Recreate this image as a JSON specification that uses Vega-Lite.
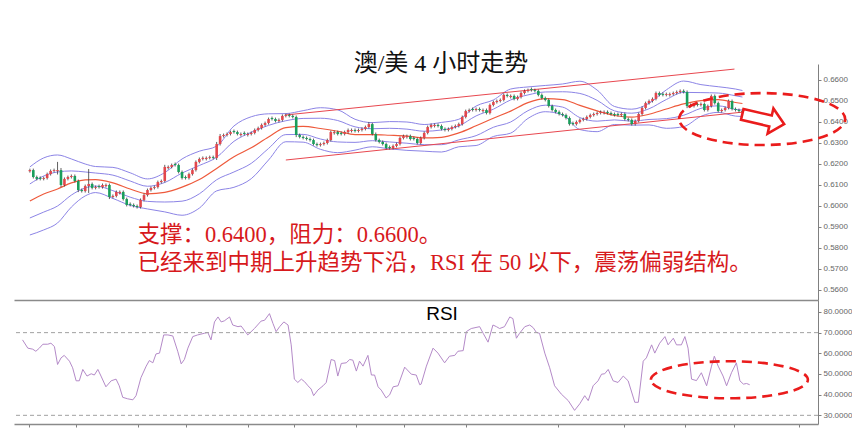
{
"$schema": "https://vega.github.io/schema/vega-lite/v6.json",
"background": "white",
"padding": {"left": 13, "top": 52, "right": 0, "bottom": 0},
"spacing": 0,
"config": {"view": {"stroke": null}, "axis": {"grid": false, "domainColor": "#808080", "tickColor": "#808080", "labelColor": "#666666", "labelFont": "Liberation Sans", "labelFontSize": 8, "tickSize": 3, "labelPadding": 2}},
"datasets": {
"candles": [
{"i":0,"o":0.6166,"h":0.6178,"l":0.6159,"c":0.6171},
{"i":1,"o":0.6171,"h":0.6178,"l":0.6131,"c":0.6138},
{"i":2,"o":0.6138,"h":0.6145,"l":0.6122,"c":0.6129},
{"i":3,"o":0.6134,"h":0.6141,"l":0.6122,"c":0.6129},
{"i":4,"o":0.6129,"h":0.6140,"l":0.6122,"c":0.6133},
{"i":5,"o":0.6133,"h":0.6159,"l":0.6126,"c":0.6152},
{"i":6,"o":0.6152,"h":0.6174,"l":0.6145,"c":0.6167},
{"i":7,"o":0.6167,"h":0.6178,"l":0.6160,"c":0.6171},
{"i":8,"o":0.6166,"h":0.6210,"l":0.6150,"c":0.6171},
{"i":9,"o":0.6171,"h":0.6181,"l":0.6090,"c":0.6100},
{"i":10,"o":0.6100,"h":0.6136,"l":0.6093,"c":0.6129},
{"i":11,"o":0.6129,"h":0.6145,"l":0.6122,"c":0.6138},
{"i":12,"o":0.6138,"h":0.6150,"l":0.6131,"c":0.6143},
{"i":13,"o":0.6143,"h":0.6150,"l":0.6112,"c":0.6119},
{"i":14,"o":0.6119,"h":0.6126,"l":0.6066,"c":0.6076},
{"i":15,"o":0.6076,"h":0.6083,"l":0.6064,"c":0.6071},
{"i":16,"o":0.6071,"h":0.6102,"l":0.6064,"c":0.6095},
{"i":17,"o":0.6095,"h":0.6176,"l":0.6062,"c":0.6105},
{"i":18,"o":0.6105,"h":0.6112,"l":0.6079,"c":0.6086},
{"i":19,"o":0.6086,"h":0.6097,"l":0.6079,"c":0.6090},
{"i":20,"o":0.6095,"h":0.6102,"l":0.6083,"c":0.6090},
{"i":21,"o":0.6090,"h":0.6107,"l":0.6083,"c":0.6100},
{"i":22,"o":0.6095,"h":0.6107,"l":0.6088,"c":0.6100},
{"i":23,"o":0.6100,"h":0.6107,"l":0.6033,"c":0.6043},
{"i":24,"o":0.6043,"h":0.6055,"l":0.6036,"c":0.6048},
{"i":25,"o":0.6048,"h":0.6074,"l":0.6041,"c":0.6067},
{"i":26,"o":0.6062,"h":0.6074,"l":0.6055,"c":0.6067},
{"i":27,"o":0.6067,"h":0.6074,"l":0.6026,"c":0.6033},
{"i":28,"o":0.6033,"h":0.6040,"l":0.5998,"c":0.6005},
{"i":29,"o":0.6010,"h":0.6017,"l":0.5998,"c":0.6005},
{"i":30,"o":0.6005,"h":0.6012,"l":0.5993,"c":0.6000},
{"i":31,"o":0.6000,"h":0.6007,"l":0.5988,"c":0.5995},
{"i":32,"o":0.5995,"h":0.6036,"l":0.5988,"c":0.6029},
{"i":33,"o":0.6029,"h":0.6059,"l":0.6022,"c":0.6052},
{"i":34,"o":0.6052,"h":0.6083,"l":0.6045,"c":0.6076},
{"i":35,"o":0.6076,"h":0.6093,"l":0.6069,"c":0.6086},
{"i":36,"o":0.6086,"h":0.6097,"l":0.6079,"c":0.6090},
{"i":37,"o":0.6090,"h":0.6121,"l":0.6083,"c":0.6114},
{"i":38,"o":0.6114,"h":0.6126,"l":0.6107,"c":0.6119},
{"i":39,"o":0.6119,"h":0.6196,"l":0.6112,"c":0.6186},
{"i":40,"o":0.6181,"h":0.6193,"l":0.6174,"c":0.6186},
{"i":41,"o":0.6186,"h":0.6202,"l":0.6179,"c":0.6195},
{"i":42,"o":0.6200,"h":0.6207,"l":0.6188,"c":0.6195},
{"i":43,"o":0.6195,"h":0.6202,"l":0.6155,"c":0.6162},
{"i":44,"o":0.6162,"h":0.6169,"l":0.6126,"c":0.6133},
{"i":45,"o":0.6138,"h":0.6145,"l":0.6126,"c":0.6133},
{"i":46,"o":0.6133,"h":0.6159,"l":0.6126,"c":0.6152},
{"i":47,"o":0.6152,"h":0.6178,"l":0.6145,"c":0.6171},
{"i":48,"o":0.6171,"h":0.6217,"l":0.6164,"c":0.6210},
{"i":49,"o":0.6210,"h":0.6231,"l":0.6203,"c":0.6224},
{"i":50,"o":0.6224,"h":0.6236,"l":0.6217,"c":0.6229},
{"i":51,"o":0.6224,"h":0.6236,"l":0.6217,"c":0.6229},
{"i":52,"o":0.6229,"h":0.6240,"l":0.6222,"c":0.6233},
{"i":53,"o":0.6233,"h":0.6240,"l":0.6222,"c":0.6229},
{"i":54,"o":0.6229,"h":0.6305,"l":0.6219,"c":0.6295},
{"i":55,"o":0.6295,"h":0.6343,"l":0.6288,"c":0.6333},
{"i":56,"o":0.6333,"h":0.6345,"l":0.6326,"c":0.6338},
{"i":57,"o":0.6338,"h":0.6350,"l":0.6331,"c":0.6343},
{"i":58,"o":0.6343,"h":0.6359,"l":0.6336,"c":0.6352},
{"i":59,"o":0.6357,"h":0.6364,"l":0.6345,"c":0.6352},
{"i":60,"o":0.6352,"h":0.6359,"l":0.6336,"c":0.6343},
{"i":61,"o":0.6338,"h":0.6350,"l":0.6331,"c":0.6343},
{"i":62,"o":0.6348,"h":0.6355,"l":0.6336,"c":0.6343},
{"i":63,"o":0.6338,"h":0.6350,"l":0.6331,"c":0.6343},
{"i":64,"o":0.6343,"h":0.6355,"l":0.6336,"c":0.6348},
{"i":65,"o":0.6348,"h":0.6369,"l":0.6341,"c":0.6362},
{"i":66,"o":0.6362,"h":0.6378,"l":0.6355,"c":0.6371},
{"i":67,"o":0.6371,"h":0.6393,"l":0.6364,"c":0.6386},
{"i":68,"o":0.6386,"h":0.6402,"l":0.6379,"c":0.6395},
{"i":69,"o":0.6395,"h":0.6421,"l":0.6388,"c":0.6414},
{"i":70,"o":0.6419,"h":0.6426,"l":0.6407,"c":0.6414},
{"i":71,"o":0.6414,"h":0.6421,"l":0.6398,"c":0.6405},
{"i":72,"o":0.6405,"h":0.6417,"l":0.6398,"c":0.6410},
{"i":73,"o":0.6410,"h":0.6436,"l":0.6403,"c":0.6429},
{"i":74,"o":0.6429,"h":0.6440,"l":0.6422,"c":0.6433},
{"i":75,"o":0.6433,"h":0.6440,"l":0.6422,"c":0.6429},
{"i":76,"o":0.6429,"h":0.6436,"l":0.6417,"c":0.6424},
{"i":77,"o":0.6424,"h":0.6431,"l":0.6328,"c":0.6338},
{"i":78,"o":0.6338,"h":0.6345,"l":0.6322,"c":0.6329},
{"i":79,"o":0.6329,"h":0.6336,"l":0.6317,"c":0.6324},
{"i":80,"o":0.6324,"h":0.6331,"l":0.6312,"c":0.6319},
{"i":81,"o":0.6319,"h":0.6326,"l":0.6307,"c":0.6314},
{"i":82,"o":0.6314,"h":0.6321,"l":0.6288,"c":0.6295},
{"i":83,"o":0.6295,"h":0.6302,"l":0.6283,"c":0.6290},
{"i":84,"o":0.6290,"h":0.6302,"l":0.6283,"c":0.6295},
{"i":85,"o":0.6295,"h":0.6307,"l":0.6288,"c":0.6300},
{"i":86,"o":0.6300,"h":0.6321,"l":0.6293,"c":0.6314},
{"i":87,"o":0.6314,"h":0.6359,"l":0.6307,"c":0.6352},
{"i":88,"o":0.6347,"h":0.6359,"l":0.6340,"c":0.6352},
{"i":89,"o":0.6352,"h":0.6359,"l":0.6336,"c":0.6343},
{"i":90,"o":0.6348,"h":0.6355,"l":0.6336,"c":0.6343},
{"i":91,"o":0.6343,"h":0.6359,"l":0.6336,"c":0.6352},
{"i":92,"o":0.6352,"h":0.6369,"l":0.6345,"c":0.6362},
{"i":93,"o":0.6357,"h":0.6369,"l":0.6350,"c":0.6362},
{"i":94,"o":0.6362,"h":0.6369,"l":0.6350,"c":0.6357},
{"i":95,"o":0.6357,"h":0.6369,"l":0.6350,"c":0.6362},
{"i":96,"o":0.6362,"h":0.6374,"l":0.6355,"c":0.6367},
{"i":97,"o":0.6367,"h":0.6383,"l":0.6360,"c":0.6376},
{"i":98,"o":0.6376,"h":0.6400,"l":0.6369,"c":0.6390},
{"i":99,"o":0.6390,"h":0.6397,"l":0.6336,"c":0.6343},
{"i":100,"o":0.6343,"h":0.6350,"l":0.6307,"c":0.6314},
{"i":101,"o":0.6314,"h":0.6321,"l":0.6298,"c":0.6305},
{"i":102,"o":0.6305,"h":0.6312,"l":0.6288,"c":0.6295},
{"i":103,"o":0.6295,"h":0.6302,"l":0.6269,"c":0.6276},
{"i":104,"o":0.6281,"h":0.6288,"l":0.6269,"c":0.6276},
{"i":105,"o":0.6276,"h":0.6293,"l":0.6269,"c":0.6286},
{"i":106,"o":0.6286,"h":0.6302,"l":0.6279,"c":0.6295},
{"i":107,"o":0.6295,"h":0.6331,"l":0.6288,"c":0.6324},
{"i":108,"o":0.6324,"h":0.6340,"l":0.6317,"c":0.6333},
{"i":109,"o":0.6328,"h":0.6340,"l":0.6321,"c":0.6333},
{"i":110,"o":0.6333,"h":0.6340,"l":0.6312,"c":0.6319},
{"i":111,"o":0.6324,"h":0.6331,"l":0.6312,"c":0.6319},
{"i":112,"o":0.6319,"h":0.6326,"l":0.6293,"c":0.6300},
{"i":113,"o":0.6300,"h":0.6331,"l":0.6293,"c":0.6324},
{"i":114,"o":0.6324,"h":0.6355,"l":0.6317,"c":0.6348},
{"i":115,"o":0.6348,"h":0.6383,"l":0.6341,"c":0.6376},
{"i":116,"o":0.6376,"h":0.6393,"l":0.6369,"c":0.6386},
{"i":117,"o":0.6381,"h":0.6393,"l":0.6374,"c":0.6386},
{"i":118,"o":0.6386,"h":0.6393,"l":0.6374,"c":0.6381},
{"i":119,"o":0.6381,"h":0.6388,"l":0.6360,"c":0.6367},
{"i":120,"o":0.6367,"h":0.6374,"l":0.6355,"c":0.6362},
{"i":121,"o":0.6362,"h":0.6374,"l":0.6355,"c":0.6367},
{"i":122,"o":0.6367,"h":0.6383,"l":0.6360,"c":0.6376},
{"i":123,"o":0.6376,"h":0.6388,"l":0.6369,"c":0.6381},
{"i":124,"o":0.6381,"h":0.6397,"l":0.6374,"c":0.6390},
{"i":125,"o":0.6390,"h":0.6431,"l":0.6383,"c":0.6424},
{"i":126,"o":0.6424,"h":0.6459,"l":0.6417,"c":0.6452},
{"i":127,"o":0.6452,"h":0.6464,"l":0.6445,"c":0.6457},
{"i":128,"o":0.6462,"h":0.6469,"l":0.6450,"c":0.6457},
{"i":129,"o":0.6457,"h":0.6469,"l":0.6450,"c":0.6462},
{"i":130,"o":0.6462,"h":0.6469,"l":0.6450,"c":0.6457},
{"i":131,"o":0.6452,"h":0.6464,"l":0.6445,"c":0.6457},
{"i":132,"o":0.6457,"h":0.6464,"l":0.6436,"c":0.6443},
{"i":133,"o":0.6443,"h":0.6488,"l":0.6436,"c":0.6481},
{"i":134,"o":0.6481,"h":0.6502,"l":0.6474,"c":0.6495},
{"i":135,"o":0.6495,"h":0.6507,"l":0.6488,"c":0.6500},
{"i":136,"o":0.6500,"h":0.6512,"l":0.6493,"c":0.6505},
{"i":137,"o":0.6505,"h":0.6536,"l":0.6498,"c":0.6529},
{"i":138,"o":0.6529,"h":0.6536,"l":0.6517,"c":0.6524},
{"i":139,"o":0.6519,"h":0.6531,"l":0.6512,"c":0.6524},
{"i":140,"o":0.6524,"h":0.6531,"l":0.6503,"c":0.6510},
{"i":141,"o":0.6510,"h":0.6526,"l":0.6503,"c":0.6519},
{"i":142,"o":0.6519,"h":0.6545,"l":0.6512,"c":0.6538},
{"i":143,"o":0.6538,"h":0.6555,"l":0.6531,"c":0.6548},
{"i":144,"o":0.6548,"h":0.6559,"l":0.6541,"c":0.6552},
{"i":145,"o":0.6557,"h":0.6564,"l":0.6545,"c":0.6552},
{"i":146,"o":0.6552,"h":0.6559,"l":0.6541,"c":0.6548},
{"i":147,"o":0.6548,"h":0.6555,"l":0.6522,"c":0.6529},
{"i":148,"o":0.6529,"h":0.6536,"l":0.6507,"c":0.6514},
{"i":149,"o":0.6514,"h":0.6521,"l":0.6498,"c":0.6505},
{"i":150,"o":0.6505,"h":0.6512,"l":0.6469,"c":0.6476},
{"i":151,"o":0.6476,"h":0.6483,"l":0.6450,"c":0.6457},
{"i":152,"o":0.6457,"h":0.6464,"l":0.6441,"c":0.6448},
{"i":153,"o":0.6448,"h":0.6455,"l":0.6431,"c":0.6438},
{"i":154,"o":0.6438,"h":0.6445,"l":0.6426,"c":0.6433},
{"i":155,"o":0.6433,"h":0.6440,"l":0.6412,"c":0.6419},
{"i":156,"o":0.6419,"h":0.6426,"l":0.6383,"c":0.6390},
{"i":157,"o":0.6395,"h":0.6402,"l":0.6383,"c":0.6390},
{"i":158,"o":0.6390,"h":0.6407,"l":0.6383,"c":0.6400},
{"i":159,"o":0.6400,"h":0.6417,"l":0.6393,"c":0.6410},
{"i":160,"o":0.6410,"h":0.6421,"l":0.6403,"c":0.6414},
{"i":161,"o":0.6414,"h":0.6431,"l":0.6407,"c":0.6424},
{"i":162,"o":0.6424,"h":0.6440,"l":0.6417,"c":0.6433},
{"i":163,"o":0.6433,"h":0.6445,"l":0.6426,"c":0.6438},
{"i":164,"o":0.6438,"h":0.6450,"l":0.6431,"c":0.6443},
{"i":165,"o":0.6443,"h":0.6455,"l":0.6436,"c":0.6448},
{"i":166,"o":0.6443,"h":0.6455,"l":0.6436,"c":0.6448},
{"i":167,"o":0.6448,"h":0.6455,"l":0.6436,"c":0.6443},
{"i":168,"o":0.6443,"h":0.6450,"l":0.6431,"c":0.6438},
{"i":169,"o":0.6438,"h":0.6445,"l":0.6426,"c":0.6433},
{"i":170,"o":0.6438,"h":0.6445,"l":0.6426,"c":0.6433},
{"i":171,"o":0.6433,"h":0.6445,"l":0.6426,"c":0.6438},
{"i":172,"o":0.6438,"h":0.6445,"l":0.6407,"c":0.6414},
{"i":173,"o":0.6414,"h":0.6421,"l":0.6403,"c":0.6410},
{"i":174,"o":0.6410,"h":0.6417,"l":0.6383,"c":0.6390},
{"i":175,"o":0.6390,"h":0.6412,"l":0.6383,"c":0.6405},
{"i":176,"o":0.6405,"h":0.6445,"l":0.6398,"c":0.6438},
{"i":177,"o":0.6438,"h":0.6474,"l":0.6431,"c":0.6467},
{"i":178,"o":0.6467,"h":0.6497,"l":0.6460,"c":0.6490},
{"i":179,"o":0.6490,"h":0.6507,"l":0.6483,"c":0.6500},
{"i":180,"o":0.6500,"h":0.6517,"l":0.6493,"c":0.6510},
{"i":181,"o":0.6510,"h":0.6545,"l":0.6503,"c":0.6538},
{"i":182,"o":0.6538,"h":0.6545,"l":0.6522,"c":0.6529},
{"i":183,"o":0.6534,"h":0.6541,"l":0.6522,"c":0.6529},
{"i":184,"o":0.6529,"h":0.6540,"l":0.6522,"c":0.6533},
{"i":185,"o":0.6528,"h":0.6540,"l":0.6521,"c":0.6533},
{"i":186,"o":0.6533,"h":0.6545,"l":0.6526,"c":0.6538},
{"i":187,"o":0.6538,"h":0.6550,"l":0.6531,"c":0.6543},
{"i":188,"o":0.6543,"h":0.6555,"l":0.6536,"c":0.6548},
{"i":189,"o":0.6548,"h":0.6555,"l":0.6536,"c":0.6543},
{"i":190,"o":0.6543,"h":0.6550,"l":0.6466,"c":0.6476},
{"i":191,"o":0.6476,"h":0.6488,"l":0.6469,"c":0.6481},
{"i":192,"o":0.6476,"h":0.6488,"l":0.6469,"c":0.6481},
{"i":193,"o":0.6486,"h":0.6493,"l":0.6474,"c":0.6481},
{"i":194,"o":0.6481,"h":0.6493,"l":0.6474,"c":0.6486},
{"i":195,"o":0.6486,"h":0.6493,"l":0.6450,"c":0.6457},
{"i":196,"o":0.6457,"h":0.6483,"l":0.6450,"c":0.6476},
{"i":197,"o":0.6476,"h":0.6531,"l":0.6469,"c":0.6524},
{"i":198,"o":0.6524,"h":0.6531,"l":0.6483,"c":0.6490},
{"i":199,"o":0.6490,"h":0.6497,"l":0.6445,"c":0.6452},
{"i":200,"o":0.6452,"h":0.6464,"l":0.6445,"c":0.6457},
{"i":201,"o":0.6457,"h":0.6474,"l":0.6450,"c":0.6467},
{"i":202,"o":0.6467,"h":0.6507,"l":0.6460,"c":0.6500},
{"i":203,"o":0.6500,"h":0.6507,"l":0.6455,"c":0.6462},
{"i":204,"o":0.6462,"h":0.6469,"l":0.6450,"c":0.6457},
{"i":205,"o":0.6457,"h":0.6464,"l":0.6445,"c":0.6452},
{"i":206,"o":0.6452,"h":0.6459,"l":0.6441,"c":0.6448}
],
"bands": [
{"i":0,"u2":0.6186,"u1":0.6105,"m":0.6024,"l1":0.5943,"l2":0.5862},
{"i":4,"u2":0.6229,"u1":0.6143,"m":0.6057,"l1":0.5971,"l2":0.5886},
{"i":8,"u2":0.6243,"u1":0.6162,"m":0.6081,"l1":0.6000,"l2":0.5919},
{"i":12,"u2":0.6224,"u1":0.6167,"m":0.6110,"l1":0.6052,"l2":0.5995},
{"i":16,"u2":0.6200,"u1":0.6162,"m":0.6124,"l1":0.6086,"l2":0.6048},
{"i":19,"u2":0.6188,"u1":0.6157,"m":0.6126,"l1":0.6095,"l2":0.6064},
{"i":24,"u2":0.6184,"u1":0.6147,"m":0.6110,"l1":0.6073,"l2":0.6036},
{"i":29,"u2":0.6158,"u1":0.6119,"m":0.6081,"l1":0.6042,"l2":0.6003},
{"i":34,"u2":0.6129,"u1":0.6094,"m":0.6058,"l1":0.6022,"l2":0.5986},
{"i":39,"u2":0.6159,"u1":0.6112,"m":0.6065,"l1":0.6019,"l2":0.5972},
{"i":44,"u2":0.6224,"u1":0.6157,"m":0.6090,"l1":0.6023,"l2":0.5956},
{"i":49,"u2":0.6261,"u1":0.6193,"m":0.6126,"l1":0.6058,"l2":0.5990},
{"i":54,"u2":0.6285,"u1":0.6232,"m":0.6179,"l1":0.6125,"l2":0.6072},
{"i":59,"u2":0.6381,"u1":0.6308,"m":0.6235,"l1":0.6162,"l2":0.6089},
{"i":64,"u2":0.6425,"u1":0.6351,"m":0.6277,"l1":0.6203,"l2":0.6130},
{"i":69,"u2":0.6439,"u1":0.6384,"m":0.6329,"l1":0.6274,"l2":0.6219},
{"i":74,"u2":0.6440,"u1":0.6406,"m":0.6373,"l1":0.6340,"l2":0.6306},
{"i":79,"u2":0.6454,"u1":0.6417,"m":0.6379,"l1":0.6341,"l2":0.6304},
{"i":84,"u2":0.6468,"u1":0.6418,"m":0.6369,"l1":0.6319,"l2":0.6270},
{"i":89,"u2":0.6458,"u1":0.6407,"m":0.6356,"l1":0.6305,"l2":0.6254},
{"i":94,"u2":0.6413,"u1":0.6377,"m":0.6340,"l1":0.6303,"l2":0.6266},
{"i":99,"u2":0.6397,"u1":0.6368,"m":0.6340,"l1":0.6311,"l2":0.6282},
{"i":104,"u2":0.6402,"u1":0.6370,"m":0.6337,"l1":0.6305,"l2":0.6272},
{"i":109,"u2":0.6400,"u1":0.6366,"m":0.6333,"l1":0.6299,"l2":0.6265},
{"i":114,"u2":0.6388,"u1":0.6356,"m":0.6324,"l1":0.6292,"l2":0.6261},
{"i":119,"u2":0.6398,"u1":0.6362,"m":0.6327,"l1":0.6292,"l2":0.6257},
{"i":124,"u2":0.6413,"u1":0.6381,"m":0.6348,"l1":0.6315,"l2":0.6282},
{"i":129,"u2":0.6476,"u1":0.6429,"m":0.6382,"l1":0.6335,"l2":0.6288},
{"i":134,"u2":0.6505,"u1":0.6461,"m":0.6418,"l1":0.6375,"l2":0.6331},
{"i":139,"u2":0.6557,"u1":0.6505,"m":0.6452,"l1":0.6400,"l2":0.6347},
{"i":144,"u2":0.6567,"u1":0.6529,"m":0.6492,"l1":0.6454,"l2":0.6417},
{"i":149,"u2":0.6574,"u1":0.6543,"m":0.6511,"l1":0.6480,"l2":0.6449},
{"i":154,"u2":0.6581,"u1":0.6544,"m":0.6507,"l1":0.6471,"l2":0.6434},
{"i":159,"u2":0.6594,"u1":0.6536,"m":0.6479,"l1":0.6421,"l2":0.6364},
{"i":164,"u2":0.6552,"u1":0.6503,"m":0.6453,"l1":0.6404,"l2":0.6354},
{"i":169,"u2":0.6474,"u1":0.6453,"m":0.6431,"l1":0.6410,"l2":0.6388},
{"i":174,"u2":0.6461,"u1":0.6442,"m":0.6423,"l1":0.6404,"l2":0.6385},
{"i":179,"u2":0.6489,"u1":0.6463,"m":0.6437,"l1":0.6412,"l2":0.6386},
{"i":184,"u2":0.6553,"u1":0.6507,"m":0.6462,"l1":0.6416,"l2":0.6370},
{"i":189,"u2":0.6595,"u1":0.6541,"m":0.6486,"l1":0.6432,"l2":0.6378},
{"i":194,"u2":0.6578,"u1":0.6540,"m":0.6502,"l1":0.6465,"l2":0.6427},
{"i":199,"u2":0.6568,"u1":0.6538,"m":0.6507,"l1":0.6477,"l2":0.6446},
{"i":204,"u2":0.6557,"u1":0.6525,"m":0.6493,"l1":0.6460,"l2":0.6428},
{"i":206,"u2":0.6550,"u1":0.6519,"m":0.6488,"l1":0.6457,"l2":0.6426}
],
"channel": [
{"i":73.7,"p":0.6433,"line":"upper"},
{"i":203.7,"p":0.6652,"line":"upper"},
{"i":74,"p":0.6219,"line":"lower"},
{"i":206.6,"p":0.6448,"line":"lower"}
],
"notes": [
{"i":31.1,"p":0.5860,"t":"支撑：0.6400，阻力：0.6600。"},
{"i":31.1,"p":0.5727,"t":"已经来到中期上升趋势下沿，RSI 在 50 以下，震荡偏弱结构。"}
],
"priceMark": [{"i":211.7,"p":0.6414}],
"arrowMark": [{"i":212,"p":0.6413}],
"rsiMark": [{"i":201.1,"v":47.2}],
"rsi": [
{"i":-0.7,"v":66.5},{"i":0.8,"v":62.5},{"i":2.2,"v":62.0},{"i":3.1,"v":61.0},{"i":4.1,"v":62.5},{"i":5.1,"v":64.4},{"i":6.5,"v":64.4},{"i":7.4,"v":64.9},{"i":8.4,"v":63.3},{"i":9.3,"v":54.6},
{"i":10.3,"v":57.8},{"i":11.2,"v":59.0},{"i":12.7,"v":56.2},{"i":13.6,"v":53.0},{"i":14.6,"v":46.7},{"i":15.5,"v":46.7},{"i":16.5,"v":52.2},{"i":17.7,"v":49.0},{"i":18.9,"v":50.1},{"i":19.8,"v":49.5},
{"i":20.8,"v":52.2},{"i":21.7,"v":49.0},{"i":23.1,"v":43.8},{"i":24.6,"v":46.7},{"i":26.0,"v":47.5},{"i":26.9,"v":44.3},{"i":27.9,"v":38.7},{"i":29.3,"v":38.0},{"i":30.8,"v":37.5},{"i":31.7,"v":39.5},
{"i":33.1,"v":48.2},{"i":34.6,"v":53.8},{"i":35.5,"v":56.5},{"i":36.5,"v":55.4},{"i":37.4,"v":59.7},{"i":38.4,"v":60.1},{"i":39.6,"v":68.9},{"i":40.8,"v":68.9},{"i":42.2,"v":68.4},{"i":43.6,"v":61.0},
{"i":44.6,"v":54.9},{"i":45.5,"v":57.0},{"i":46.5,"v":62.5},{"i":47.9,"v":68.1},{"i":49.3,"v":68.9},{"i":51.2,"v":69.7},{"i":52.2,"v":70.1},{"i":53.1,"v":66.5},{"i":54.1,"v":75.2},{"i":55.1,"v":77.6},
{"i":56.0,"v":75.2},{"i":56.9,"v":75.7},{"i":58.4,"v":77.6},{"i":59.3,"v":73.7},{"i":60.8,"v":72.9},{"i":61.7,"v":73.2},{"i":63.6,"v":68.9},{"i":65.5,"v":72.0},{"i":67.4,"v":75.6},{"i":68.4,"v":76.0},
{"i":69.8,"v":79.2},{"i":70.8,"v":74.4},{"i":71.7,"v":70.5},{"i":72.7,"v":72.9},{"i":73.9,"v":75.2},{"i":75.1,"v":73.7},{"i":76.0,"v":64.1},{"i":76.9,"v":47.5},{"i":77.9,"v":45.9},{"i":78.9,"v":47.5},
{"i":79.8,"v":46.3},{"i":80.8,"v":44.3},{"i":81.7,"v":42.7},{"i":82.4,"v":39.5},{"i":83.6,"v":42.2},{"i":85.1,"v":44.3},{"i":86.0,"v":45.9},{"i":87.4,"v":57.0},{"i":88.4,"v":56.5},{"i":89.3,"v":49.0},
{"i":90.3,"v":55.1},{"i":91.7,"v":55.4},{"i":92.7,"v":57.0},{"i":93.6,"v":56.7},{"i":94.6,"v":51.4},{"i":95.5,"v":56.2},{"i":96.5,"v":53.8},{"i":97.9,"v":59.0},{"i":98.9,"v":49.5},{"i":99.8,"v":49.5},
{"i":100.8,"v":43.8},{"i":101.7,"v":42.2},{"i":103.1,"v":38.4},{"i":104.1,"v":39.9},{"i":105.1,"v":43.8},{"i":106.5,"v":44.3},{"i":108.4,"v":53.3},{"i":110.3,"v":49.9},{"i":111.7,"v":49.5},{"i":112.7,"v":44.8},
{"i":113.1,"v":45.1},{"i":114.6,"v":53.8},{"i":116.5,"v":62.5},{"i":117.9,"v":60.1},{"i":119.8,"v":55.4},{"i":121.2,"v":58.6},{"i":122.7,"v":59.0},{"i":123.6,"v":61.0},{"i":125.1,"v":61.3},{"i":126.0,"v":70.5},
{"i":127.4,"v":72.0},{"i":129.8,"v":72.9},{"i":130.8,"v":69.7},{"i":132.2,"v":65.4},{"i":133.6,"v":73.7},{"i":134.6,"v":72.9},{"i":135.5,"v":72.0},{"i":136.9,"v":72.9},{"i":138.4,"v":77.6},{"i":139.3,"v":76.8},
{"i":140.3,"v":67.3},{"i":141.2,"v":69.7},{"i":142.7,"v":72.9},{"i":144.1,"v":73.7},{"i":145.1,"v":72.4},{"i":146.0,"v":70.1},{"i":146.9,"v":69.7},{"i":148.4,"v":60.1},{"i":149.8,"v":53.0},{"i":151.2,"v":44.3},
{"i":153.1,"v":40.3},{"i":155.1,"v":37.1},{"i":156.9,"v":32.4},{"i":158.4,"v":35.6},{"i":159.8,"v":39.5},{"i":160.8,"v":37.1},{"i":162.2,"v":44.3},{"i":163.6,"v":46.7},{"i":164.6,"v":49.9},{"i":165.5,"v":50.1},
{"i":166.5,"v":52.2},{"i":167.9,"v":46.7},{"i":169.3,"v":45.9},{"i":170.8,"v":49.0},{"i":172.2,"v":46.7},{"i":174.1,"v":36.3},{"i":175.1,"v":36.3},{"i":176.5,"v":56.2},{"i":177.4,"v":57.8},{"i":178.9,"v":64.1},
{"i":179.8,"v":60.1},{"i":181.2,"v":64.9},{"i":182.7,"v":68.1},{"i":183.6,"v":64.1},{"i":185.1,"v":67.3},{"i":186.0,"v":64.1},{"i":187.4,"v":64.1},{"i":188.4,"v":68.1},{"i":189.3,"v":62.5},{"i":190.3,"v":47.5},
{"i":191.7,"v":46.8},{"i":193.1,"v":50.6},{"i":194.6,"v":44.3},{"i":196.0,"v":53.8},{"i":196.8,"v":58.6},{"i":197.9,"v":53.8},{"i":199.3,"v":49.0},{"i":200.3,"v":44.3},{"i":201.7,"v":50.6},{"i":203.1,"v":55.4},
{"i":204.1,"v":46.7},{"i":205.1,"v":45.1},{"i":206.0,"v":45.4},{"i":206.9,"v":44.8}
]
},
"vconcat": [
{
"width": 804,
"height": 236,
"title": {"text": "澳/美 4 小时走势", "font": "Liberation Serif, Noto Sans CJK SC", "fontSize": 24, "fontWeight": "normal", "color": "#111111", "offset": -12, "dx": 25},
"encoding": {"x": {"field": "i", "type": "quantitative", "title": null, "scale": {"domain": [-3.14, 226.4], "nice": false, "zero": false}, "axis": {"labels": false, "ticks": false, "domainWidth": 1.5, "domainColor": "#8a8a8a"}}},
"layer": [
{"data": {"name": "bands"}, "mark": {"type": "line", "color": "#8c84e6", "strokeWidth": 1, "interpolate": "monotone"},
 "encoding": {"y": {"field": "u2", "type": "quantitative", "title": null, "scale": {"domain": [0.555238, 0.667619], "nice": false, "zero": false}, "axis": {"orient": "right", "values": [0.56,0.57,0.58,0.59,0.6,0.61,0.62,0.63,0.64,0.65,0.66], "tickCount": 50, "format": ".4f"}}}},
{"data": {"name": "bands"}, "mark": {"type": "line", "color": "#8c84e6", "strokeWidth": 1, "interpolate": "monotone"},
 "encoding": {"y": {"field": "u1", "type": "quantitative", "title": null, "scale": {"domain": [0.555238, 0.667619], "nice": false, "zero": false}}}},
{"data": {"name": "bands"}, "mark": {"type": "line", "color": "#8c84e6", "strokeWidth": 1, "interpolate": "monotone"},
 "encoding": {"y": {"field": "l1", "type": "quantitative", "title": null, "scale": {"domain": [0.555238, 0.667619], "nice": false, "zero": false}}}},
{"data": {"name": "bands"}, "mark": {"type": "line", "color": "#8c84e6", "strokeWidth": 1, "interpolate": "monotone"},
 "encoding": {"y": {"field": "l2", "type": "quantitative", "title": null, "scale": {"domain": [0.555238, 0.667619], "nice": false, "zero": false}}}},
{"data": {"name": "bands"}, "mark": {"type": "line", "color": "#ee5a3c", "strokeWidth": 1.2, "interpolate": "monotone"},
 "encoding": {"y": {"field": "m", "type": "quantitative", "title": null, "scale": {"domain": [0.555238, 0.667619], "nice": false, "zero": false}}}},
{"data": {"name": "channel"}, "mark": {"type": "line", "color": "#e8474f", "strokeWidth": 1},
 "encoding": {"y": {"field": "p", "type": "quantitative", "title": null, "scale": {"domain": [0.555238, 0.667619], "nice": false, "zero": false}}, "detail": {"field": "line"}}},
{"data": {"name": "candles"}, "mark": {"type": "rule", "color": "#3a3a3a", "strokeWidth": 0.8},
 "encoding": {"y": {"field": "l", "type": "quantitative", "title": null, "scale": {"domain": [0.555238, 0.667619], "nice": false, "zero": false}}, "y2": {"field": "h"}}},
{"data": {"name": "candles"}, "mark": {"type": "bar", "size": 2.6},
 "encoding": {"y": {"field": "o", "type": "quantitative", "title": null, "scale": {"domain": [0.555238, 0.667619], "nice": false, "zero": false}}, "y2": {"field": "c"},
  "color": {"condition": {"test": "datum.c > datum.o", "value": "#e2474c"}, "value": "#1a9e5c"}}},
{"data": {"name": "notes"}, "mark": {"type": "text", "align": "left", "baseline": "middle", "fontSize": 22.5, "font": "Liberation Serif, Noto Sans CJK SC", "color": "#d7191c"},
 "encoding": {"y": {"field": "p", "type": "quantitative", "title": null, "scale": {"domain": [0.555238, 0.667619], "nice": false, "zero": false}}, "text": {"field": "t"}}},
{"data": {"name": "priceMark"}, "mark": {"type": "point", "shape": "M -1 0 C -1 -0.1729 -0.5523 -0.313 0 -0.313 C 0.5523 -0.313 1 -0.1729 1 0 C 1 0.1729 0.5523 0.313 0 0.313 C -0.5523 0.313 -1 0.1729 -1 0 Z", "size": 27556, "filled": false, "stroke": "#ea1c1c", "strokeWidth": 2.6, "strokeDash": [10, 6], "opacity": 1},
 "encoding": {"y": {"field": "p", "type": "quantitative", "title": null, "scale": {"domain": [0.555238, 0.667619], "nice": false, "zero": false}}}},
{"data": {"name": "arrowMark"}, "mark": {"type": "point", "shape": "M -1 -0.26 L 0.35 -0.26 L 0.35 -0.6 L 1 0 L 0.35 0.6 L 0.35 0.26 L -1 0.26 Z", "size": 1849, "angle": 13, "filled": true, "fill": "#ffffff", "stroke": "#ea1c1c", "strokeWidth": 2.6, "opacity": 1, "fillOpacity": 1},
 "encoding": {"y": {"field": "p", "type": "quantitative", "title": null, "scale": {"domain": [0.555238, 0.667619], "nice": false, "zero": false}}}}
]
},
{
"width": 804,
"height": 124,
"title": {"text": "RSI", "font": "Liberation Sans", "fontSize": 19, "fontWeight": "normal", "color": "#000000", "offset": -24, "dx": 26},
"encoding": {"x": {"field": "i", "type": "quantitative", "title": null, "scale": {"domain": [-3.14, 226.4], "nice": false, "zero": false}, "axis": {"labels": false, "values": [1.1, 14.6, 32.3, 46, 63.7, 76.9, 94.6, 108.3, 126, 152.3, 170.9, 188.3, 202.3, 220.9], "tickCount": 50, "tickSize": 3, "domainWidth": 1.5, "domainColor": "#8a8a8a"}}},
"layer": [
{"data": {"name": "rsi"}, "mark": {"type": "line", "color": "#b48ac8", "strokeWidth": 1},
 "encoding": {"y": {"field": "v", "type": "quantitative", "title": null, "scale": {"domain": [25.8, 85.8], "nice": false, "zero": false}, "axis": {"orient": "right", "values": [30, 40, 50, 60, 70, 80], "tickCount": 50, "format": ".4f"}}}},
{"data": {"values": [{"lvl": 70}, {"lvl": 30}]}, "mark": {"type": "rule", "color": "#a0a0a0", "strokeDash": [4, 3], "strokeWidth": 1},
 "encoding": {"x": null, "y": {"field": "lvl", "type": "quantitative", "title": null, "scale": {"domain": [25.8, 85.8], "nice": false, "zero": false}}}},
{"data": {"name": "rsiMark"}, "mark": {"type": "point", "shape": "M -1 0 C -1 -0.130 -0.5523 -0.236 0 -0.236 C 0.5523 -0.236 1 -0.130 1 0 C 1 0.130 0.5523 0.236 0 0.236 C -0.5523 0.236 -1 0.130 -1 0 Z", "size": 24649, "filled": false, "stroke": "#ea1c1c", "strokeWidth": 2.6, "strokeDash": [10, 6], "opacity": 1},
 "encoding": {"y": {"field": "v", "type": "quantitative", "title": null, "scale": {"domain": [25.8, 85.8], "nice": false, "zero": false}}}}
]
}
]
}
